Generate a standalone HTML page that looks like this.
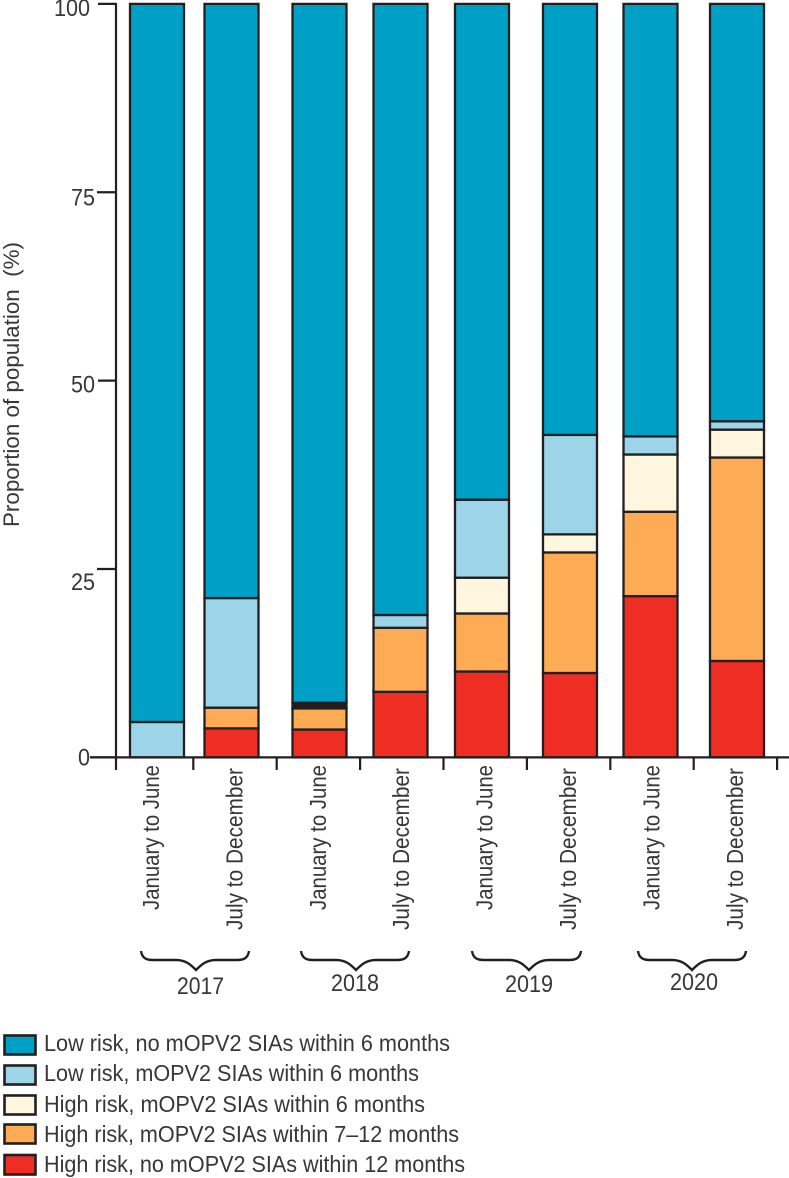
<!DOCTYPE html>
<html lang="en">
<head>
<meta charset="utf-8">
<title>Proportion of population by risk category</title>
<style>
  html, body { margin: 0; padding: 0; background: #fff; }
  svg { display: block; }
  text { font-family: "Liberation Sans", sans-serif; fill: #383637; }
</style>
</head>
<body>
<svg id="chart" width="789" height="1178" viewBox="0 0 789 1178" xmlns="http://www.w3.org/2000/svg">
  <g id="bars"></g>
  <g id="axes"></g>
  <text transform="translate(19,527) rotate(-90)" font-size="22.5" textLength="285" lengthAdjust="spacingAndGlyphs">Proportion of population&#160;&#160;(%)</text>

  <g fill="none" stroke="#231f20" stroke-width="2.4">
    <path d="M141 951 C142 958 146 960 153 960 H176 C186 960 191 965 196 970 C201 965 206 960 216 960 H237 C244 960 248 958 249 951"/>
    <path d="M301 951 C302 958 306 960 313 960 H336 C346 960 351 965 356 970 C361 965 366 960 376 960 H397 C404 960 408 958 409 951"/>
    <path d="M472 951 C473 958 477 960 484 960 H509 C519 960 524 965 529 970 C534 965 539 960 549 960 H569 C576 960 580 958 581 951"/>
    <path d="M638 951 C639 958 643 960 650 960 H672 C682 960 687 965 692 970 C697 965 702 960 712 960 H734 C741 960 745 958 746 951"/>
  </g>
  <text x="177" y="994" font-size="24" textLength="47" lengthAdjust="spacingAndGlyphs">2017</text>
  <text x="331" y="991" font-size="24" textLength="48" lengthAdjust="spacingAndGlyphs">2018</text>
  <text x="505" y="992" font-size="24" textLength="48" lengthAdjust="spacingAndGlyphs">2019</text>
  <text x="670" y="990" font-size="24" textLength="48" lengthAdjust="spacingAndGlyphs">2020</text>

  <g stroke-width="2.6">
    <g>
      <rect x="4.5" y="1035.5" width="31" height="19" fill="#009fc5" stroke="#231f20"/>
      <text x="44" y="1051" font-size="23" stroke="none" textLength="406" lengthAdjust="spacingAndGlyphs">Low risk, no mOPV2 SIAs within 6 months</text>
    </g>
    <g>
      <rect x="4.5" y="1065.5" width="31" height="19" fill="#9dd5e8" stroke="#231f20"/>
      <text x="44" y="1081" font-size="23" stroke="none" textLength="375" lengthAdjust="spacingAndGlyphs">Low risk, mOPV2 SIAs within 6 months</text>
    </g>
    <g>
      <rect x="4.5" y="1095.5" width="31" height="19" fill="#fff6df" stroke="#231f20"/>
      <text x="44" y="1112" font-size="23" stroke="none" textLength="381" lengthAdjust="spacingAndGlyphs">High risk, mOPV2 SIAs within 6 months</text>
    </g>
    <g>
      <rect x="4.5" y="1124.5" width="31" height="19" fill="#fdab55" stroke="#231f20"/>
      <text x="44" y="1142" font-size="23" stroke="none" textLength="415" lengthAdjust="spacingAndGlyphs">High risk, mOPV2 SIAs within 7–12 months</text>
    </g>
    <g>
      <rect x="4.5" y="1155" width="31" height="19.5" fill="#ee2e24" stroke="#231f20"/>
      <text x="44" y="1172" font-size="23" stroke="none" textLength="421" lengthAdjust="spacingAndGlyphs">High risk, no mOPV2 SIAs within 12 months</text>
    </g>
  </g>
</svg>

<script>
// ---- Chart data (percent of population per half-year period) ----
const periods = ["January to June", "July to December", "January to June", "July to December", "January to June", "July to December", "January to June", "July to December"];
const highRiskNoSias = [0, 3.85, 3.7, 8.7, 11.4, 11.2, 21.4, 12.8];
const highRiskSias712 = [0, 2.75, 2.8, 8.5, 7.7, 16.0, 11.2, 27.0];
const highRiskSias6 = [0, 0, 0, 0, 4.75, 2.4, 7.6, 3.7];
const lowRiskSias = [4.7, 14.55, 0, 1.7, 10.35, 13.2, 2.4, 1.1];
const unclassified = [0, 0, 0.75, 0, 0, 0, 0, 0];
const lowRiskNoSias = [95.3, 78.85, 92.75, 81.1, 65.8, 57.2, 57.4, 55.4];
const yTickValues = [0, 25, 50, 75, 100];

// ---- Layout (not data) ----
const NS = "http://www.w3.org/2000/svg";
const INK = "#231f20";
const Y0 = 757.4, PX_PER_UNIT = 7.535;
const BAR_W = 54;
const barNudge = [0, -9, -4.5, -7, -9, -4.5, -7.5, -4.5];
const tickLabelDy = [8, 21, 12, 13, 12];
const tickLabelRight = [90, 95, 95, 95, 90];
const tickLeft = [90, 97, 98, 97, 98];

function yScale(v) { return Y0 - v * PX_PER_UNIT; }
function xScale(i) { return 130 + 83.5 * i + barNudge[i]; }
function labelX(i) { return 159 + 83.4 * i; }
function sepX(i) { return 193.3 + 83.4 * i; }

const stackSeries = [
  { key: "high-risk-no-sias", values: highRiskNoSias, fill: "#ee2e24" },
  { key: "high-risk-sias-7-12", values: highRiskSias712, fill: "#fdab55" },
  { key: "high-risk-sias-6", values: highRiskSias6, fill: "#fff6df" },
  { key: "low-risk-sias", values: lowRiskSias, fill: "#9dd5e8" },
  { key: "unclassified", values: unclassified, fill: "#231f20" },
  { key: "low-risk-no-sias", values: lowRiskNoSias, fill: "#009fc5" }
];

const barsLayer = document.getElementById("bars");
const axesLayer = document.getElementById("axes");

function line(x1, y1, x2, y2) {
  const el = document.createElementNS(NS, "line");
  el.setAttribute("x1", x1);
  el.setAttribute("y1", y1);
  el.setAttribute("x2", x2);
  el.setAttribute("y2", y2);
  el.setAttribute("stroke", INK);
  el.setAttribute("stroke-width", 2.2);
  axesLayer.appendChild(el);
  return el;
}

periods.forEach(function (period, i) {
  let cumulative = 0;
  stackSeries.forEach(function (series) {
    const v = series.values[i];
    if (v <= 0) return;
    const top = yScale(cumulative + v);
    const bottom = yScale(cumulative);
    const rect = document.createElementNS(NS, "rect");
    
    
    rect.setAttribute("x", xScale(i));
    rect.setAttribute("y", top);
    rect.setAttribute("width", BAR_W);
    rect.setAttribute("height", bottom - top);
    rect.setAttribute("fill", series.fill);
    rect.setAttribute("stroke", INK);
    rect.setAttribute("stroke-width", 2.3);
    barsLayer.appendChild(rect);
    cumulative += v;
  });

  const label = document.createElementNS(NS, "text");
  
  
  label.setAttribute("transform", "translate(" + labelX(i) + "," + (period.charAt(1) === "a" ? 765 : 768) + ") rotate(-90)");
  label.setAttribute("text-anchor", "end");
  label.setAttribute("font-size", 23);
  label.setAttribute("textLength", period.charAt(1) === "a" ? 145 : 162);
  label.setAttribute("lengthAdjust", "spacingAndGlyphs");
  label.textContent = period;
  axesLayer.appendChild(label);

  const sep = line(sepX(i), Y0, sepX(i), 770);
  
  
});

const yAxis = line(116, yScale(100) - 1, 116, 770);



const xAxis = line(90, Y0, 789, Y0);



yTickValues.forEach(function (v, j) {
  const tick = line(tickLeft[j], yScale(v), 116, yScale(v));
  
  

  const t = document.createElementNS(NS, "text");
  
  
  const label = String(v);
  t.setAttribute("x", tickLabelRight[j] - 12 * label.length);
  t.setAttribute("y", yScale(v) + tickLabelDy[j]);
  t.setAttribute("font-size", 24);
  t.setAttribute("textLength", 12 * label.length);
  t.setAttribute("lengthAdjust", "spacingAndGlyphs");
  t.textContent = label;
  axesLayer.appendChild(t);
});
</script>
</body>
</html>
